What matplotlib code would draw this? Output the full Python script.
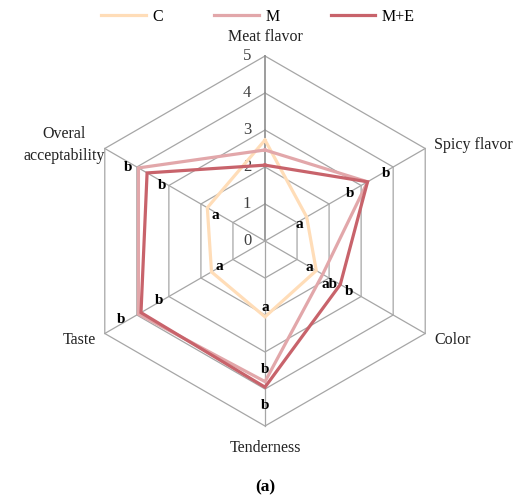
import numpy as np
import matplotlib
matplotlib.use("Agg")
import matplotlib.pyplot as plt
from matplotlib.lines import Line2D

plt.rcParams['font.family'] = ['Liberation Serif', 'DejaVu Serif']

categories = ["Meat flavor", "Spicy flavor", "Color", "Tenderness", "Taste", "Overal\nacceptability"]
series_names = ["C", "M", "M+E"]
C_vals = [2.73, 1.3, 1.6, 2.05, 1.67, 1.8]
M_vals = [2.46, 3.2, 1.8, 3.8, 3.95, 3.95]
ME_vals = [2.05, 3.2, 2.35, 3.95, 3.87, 3.68]
tick_vals = [0, 1, 2, 3, 4, 5]
letters_C = ["", "a", "a", "a", "a", "a"]
letters_M = ["", "b", "ab", "b", "b", "b"]
letters_ME = ["", "b", "b", "b", "b", "b"]

colors = ["#FFDDB8", "#E2A7AA", "#C8636B"]
W, H = 513, 499
fig = plt.figure(figsize=(W/100, H/100), dpi=100)
cx, cy, R = 265, 241, 185
ax = fig.add_axes([(cx-R)/W, (H-cy-R)/H, 2*R/W, 2*R/H], projection='polar')
ax.set_theta_offset(np.pi/2)
ax.set_theta_direction(-1)
ax.set_ylim(0, 5)
ax.axis('off')

n = len(categories)
theta = np.arange(n) * 2*np.pi/n
theta_c = np.append(theta, theta[0])

# grid rings
for r in tick_vals[1:]:
    ax.plot(theta_c, [r]*(n+1), color="#A6A6A6", lw=0.9, zorder=1, clip_on=False)
# spokes
for i, t in enumerate(theta):
    ax.plot([t, t], [0, 5], color="#A6A6A6" if i else "#8C8C8C", lw=0.9 if i else 1.2, zorder=1, clip_on=False)

# tick labels
for v in tick_vals:
    ax.annotate(str(v), xy=(0, v), xytext=(-18, 0), textcoords='offset pixels',
                ha='center', va='center', fontsize=12, color="#404040")

# series
for vals, col in zip([C_vals, M_vals, ME_vals], colors):
    ax.plot(theta_c, list(vals)+[vals[0]], color=col, lw=2.3, zorder=3, clip_on=False,
            solid_joinstyle='miter')

# letters (offsets in pixels)
off_C = [(0, 0), (-7, -8), (-7, 3), (0, 9), (8, 5), (8, -8)]
off_M = [(0, 0), (18, 8), (7, -10), (0, 12), (-17, -5), (-10, 0)]
off_ME = [(0, 0), (-18, -12), (9, -7), (0, -18), (18, 12), (15, -13)]
for vals, lets, offs in [(C_vals, letters_C, off_C), (M_vals, letters_M, off_M), (ME_vals, letters_ME, off_ME)]:
    for t, v, l, o in zip(theta, vals, lets, offs):
        if l:
            ax.annotate(l, xy=(t, v), xytext=o, textcoords='offset pixels', ha='center',
                        va='center', fontsize=11, fontweight='bold', color='black', zorder=5)

# category labels (figure pixel coords)
lab_pos = [(265, 37, 'center'), (434, 145, 'left'), (434, 340, 'left'),
           (265, 448, 'center'), (96, 340, 'right'), (64, 145, 'center')]
for lab, (x, y, ha) in zip(categories, lab_pos):
    fig.text(x/W, 1-y/H, lab, ha=ha, va='center', fontsize=11.5, color="#222222",
             linespacing=1.45)

fig.text(265/W, 1-487/H, "(a)", ha='center', va='center', fontsize=12.5, fontweight='bold')

handles = [Line2D([], [], color=c, lw=2.3) for c in colors]
fig.legend(handles, series_names, loc='center', bbox_to_anchor=(258/W, 1-17/H), ncol=3,
           frameon=False, fontsize=11.5, handlelength=2.8, handletextpad=0.4, columnspacing=3.2)

fig.savefig("out.png", dpi=100)
